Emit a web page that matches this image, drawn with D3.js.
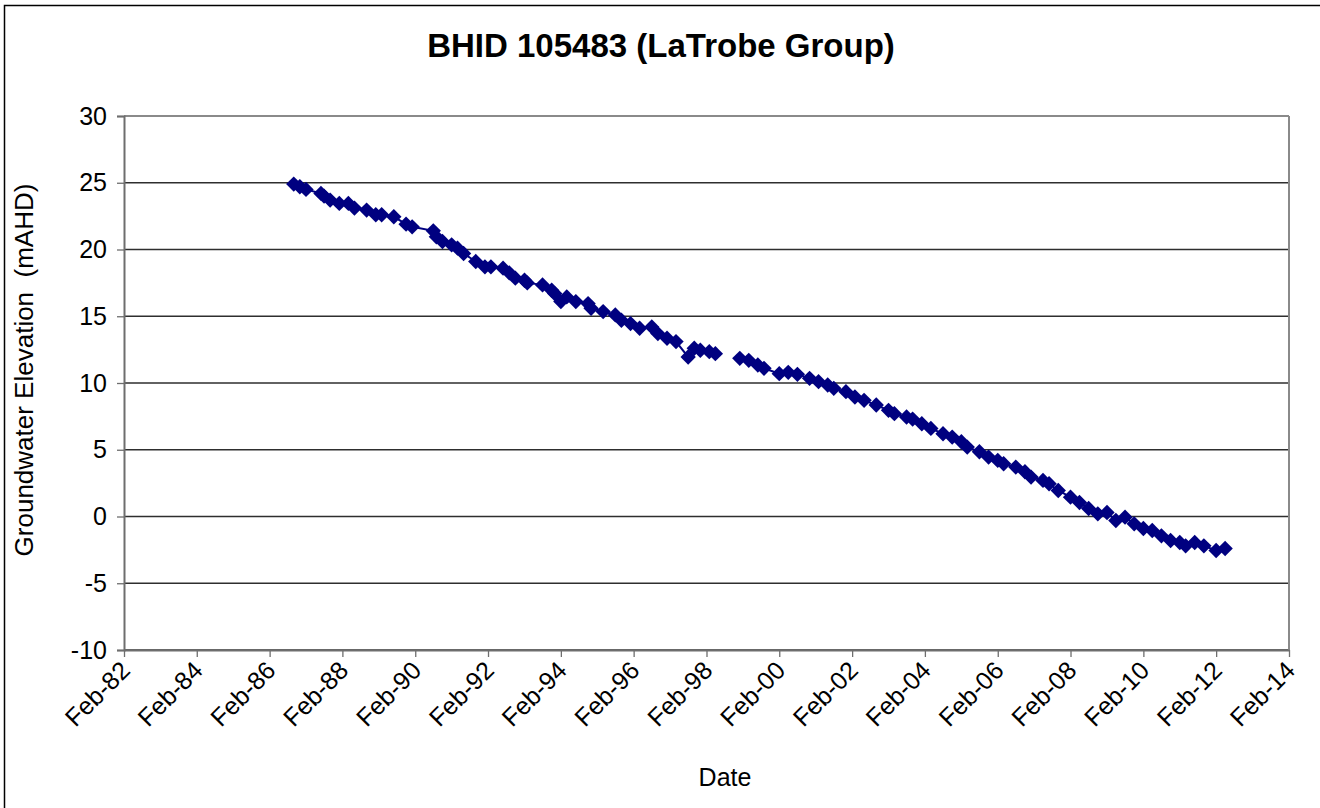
<!DOCTYPE html>
<html>
<head>
<meta charset="utf-8">
<script src="https://cdn.jsdelivr.net/npm/d3@7"></script>
<style>
  body { margin: 0; background: #fff; }
  text { font-family: "Liberation Sans", Arial, sans-serif; fill: #000; }
</style>
</head>
<body>
<script>
// chart size
var width = 1320,
    height = 808;
var margin = {top: 116, right: 31, bottom: 158, left: 124};

// sample dates (yyyy-mm) and groundwater elevations (mAHD)
// null = gap in record
var dates = [
  "1986-10","1986-12","1987-02","1987-07","1987-08","1987-10","1988-01","1988-04","1988-06","1988-10",
  "1989-01","1989-03","1989-07","1989-11","1990-01","1990-08","1990-09","1990-11","1991-02","1991-04",
  "1991-06","1991-10","1992-01","1992-03","1992-07","1992-09","1992-11","1993-02","1993-03","1993-08",
  "1993-11","1993-12","1994-02","1994-04","1994-07","1994-11","1994-12","1995-04","1995-08","1995-10",
  "1996-01","1996-04","1996-08","1996-10","1997-01","1997-04","1997-08","1997-10","1997-12","1998-03",
  "1998-05","1998-09","1999-01","1999-04","1999-07","1999-09","2000-02","2000-05","2000-08","2000-12",
  "2001-03","2001-06","2001-08","2001-12","2002-03","2002-06","2002-10","2003-02","2003-04","2003-08",
  "2003-10","2004-01","2004-04","2004-08","2004-11","2005-02","2005-04","2005-08","2005-11","2006-02",
  "2006-04","2006-08","2006-11","2007-01","2007-05","2007-07","2007-10","2008-02","2008-05","2008-08",
  "2008-11","2009-02","2009-05","2009-08","2009-11","2010-02","2010-05","2010-08","2010-11","2011-02",
  "2011-04","2011-07","2011-10","2012-02","2012-05"
];
var levels = [
  24.9, 24.7, 24.5, 24.2, 24.0, 23.7, 23.45, 23.45, 23.1, 22.95,
  22.6, 22.6, 22.45, 21.9, 21.7, 21.4, 20.95, 20.6, 20.35, 20.1,
  19.7, 19.1, 18.7, 18.7, 18.6, 18.25, 17.85, 17.7, 17.5, 17.35,
  16.95, 16.7, 16.1, 16.45, 16.1, 15.95, 15.6, 15.35, 15.1, 14.7,
  14.45, 14.1, 14.2, 13.7, 13.35, 13.1, 11.95, 12.6, 12.45, 12.35,
  12.2, null, 11.85, 11.7, 11.35, 11.1, 10.7, 10.8, 10.65, 10.35,
  10.1, 9.85, 9.6, 9.35, 8.95, 8.7, 8.35, 7.95, 7.7, 7.45,
  7.3, 6.95, 6.6, 6.2, 5.95, 5.6, 5.2, 4.85, 4.45, 4.2,
  3.95, 3.7, 3.35, 2.95, 2.7, 2.45, 1.95, 1.45, 1.05, 0.6,
  0.2, 0.3, -0.3, -0.05, -0.55, -0.9, -1.05, -1.45, -1.8, -1.95,
  -2.2, -1.95, -2.2, -2.55, -2.4
];
var yTicks = [-10, -5, 0, 5, 10, 15, 20, 25, 30];
var xTickYears = [1982, 1984, 1986, 1988, 1990, 1992, 1994, 1996, 1998, 2000, 2002, 2004, 2006, 2008, 2010, 2012, 2014];

var parse = d3.timeParse("%Y-%m");
var data = dates.map(function(d, i) { return {date: parse(d), value: levels[i]}; });

var svg = d3.select("body").append("svg")
    .attr("width", width)
    .attr("height", height);

// outer chart frame
svg.append("rect")
    .attr("x", 4.5).attr("y", 5.5)
    .attr("width", width).attr("height", height)
    .attr("fill", "none").attr("stroke", "#000").attr("stroke-width", 1.5);

var pw = width - margin.left - margin.right,
    ph = height - margin.top - margin.bottom;

var x = d3.scaleTime()
    .domain([new Date(1982, 1, 1), new Date(2014, 1, 1)])
    .range([0, pw]);
var y = d3.scaleLinear()
    .domain([-10, 30])
    .range([ph, 0]);

var g = svg.append("g")
    .attr("transform", "translate(" + margin.left + "," + margin.top + ")");

// horizontal gridlines
g.selectAll(".grid").data(yTicks).enter().append("line")
    .attr("x1", 0).attr("x2", pw)
    .attr("y1", function(d) { return y(d); })
    .attr("y2", function(d) { return y(d); })
    .attr("stroke", "#2e2e2e").attr("stroke-width", 1.3);

// plot area border (top and right)
g.append("line")
    .attr("x1", pw).attr("x2", pw).attr("y1", 0).attr("y2", ph)
    .attr("stroke", "#8a8a8a").attr("stroke-width", 2);
g.append("line")
    .attr("x1", 0).attr("x2", pw).attr("y1", 0).attr("y2", 0)
    .attr("stroke", "#8a8a8a").attr("stroke-width", 2);

// y axis (plain hyphen for negatives, like the original)
var yAxis = g.append("g")
    .call(d3.axisLeft(y).tickValues(yTicks).tickSize(7).tickPadding(10)
        .tickFormat(function(d) { return String(d); }));
yAxis.select(".domain").attr("stroke", "#6e6e6e").attr("stroke-width", 2);
yAxis.selectAll(".tick line").attr("stroke", "#6e6e6e").attr("stroke-width", 1.3);
yAxis.selectAll("text")
    .style("font-family", "Liberation Sans, Arial, sans-serif")
    .style("font-size", "25px").attr("fill", "#000");

// x axis
var xAxis = g.append("g")
    .attr("transform", "translate(0," + ph + ")")
    .call(d3.axisBottom(x)
        .tickValues(xTickYears.map(function(yr) { return new Date(yr, 1, 1); }))
        .tickFormat(d3.timeFormat("Feb-%y"))
        .tickSize(7).tickSizeOuter(0));
xAxis.select(".domain").attr("stroke", "#6e6e6e").attr("stroke-width", 2);
xAxis.selectAll(".tick line").attr("stroke", "#6e6e6e").attr("stroke-width", 1.3);
xAxis.selectAll("text")
    .style("font-family", "Liberation Sans, Arial, sans-serif")
    .style("font-size", "25px").attr("fill", "#000")
    .attr("text-anchor", "end")
    .attr("dy", null)
    .attr("y", 0)
    .attr("transform", "translate(7,22) rotate(-45)");

// series line
var line = d3.line()
    .defined(function(d) { return d.value !== null; })
    .x(function(d) { return x(d.date); })
    .y(function(d) { return y(d.value); });

g.append("path")
    .datum(data)
    .attr("fill", "none")
    .attr("stroke", "#000080")
    .attr("stroke-width", 2)
    .attr("d", line);

// diamond markers
var sym = d3.symbol().type(d3.symbolDiamond2).size(150);
g.selectAll(".pt")
    .data(data.filter(function(d) { return d.value !== null; }))
    .enter().append("path")
    .attr("transform", function(d) { return "translate(" + x(d.date) + "," + y(d.value) + ")"; })
    .attr("d", sym)
    .attr("fill", "#000080");

// title and axis titles
svg.append("text")
    .attr("x", 661).attr("y", 57)
    .attr("text-anchor", "middle")
    .style("font-size", "33px").style("font-weight", "bold")
    .text("BHID 105483 (LaTrobe Group)");

svg.append("text")
    .attr("transform", "translate(33,370) rotate(-90)")
    .attr("text-anchor", "middle")
    .style("font-size", "26px")
    .style("white-space", "pre")
    .text("Groundwater Elevation  (mAHD)");

svg.append("text")
    .attr("x", 725).attr("y", 786)
    .attr("text-anchor", "middle")
    .style("font-size", "25px")
    .text("Date");
</script>
</body>
</html>
